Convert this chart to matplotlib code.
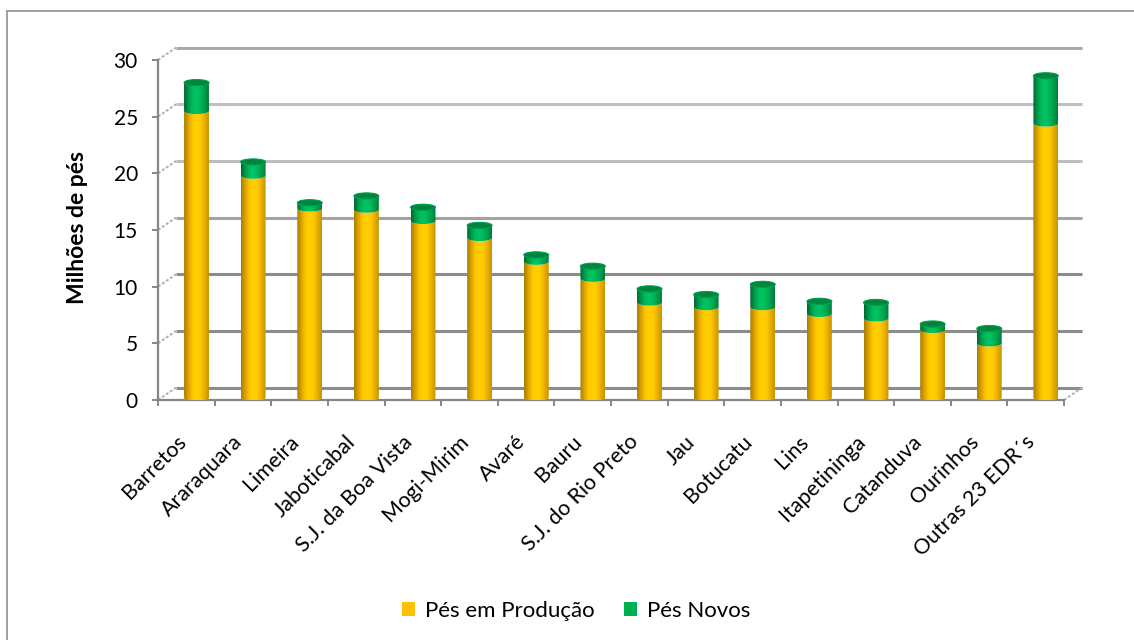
import matplotlib
matplotlib.use("Agg")
import matplotlib.pyplot as plt
import numpy as np
from matplotlib.colors import LinearSegmentedColormap
from matplotlib.patches import Ellipse, Patch, Polygon, Rectangle

plt.rcParams["font.family"] = ["Lato", "DejaVu Sans"]

categorias = [
    "Barretos", "Araraquara", "Limeira", "Jaboticabal", "S.J. da Boa Vista",
    "Mogi-Mirim", "Avaré", "Bauru", "S.J. do Rio Preto", "Jau", "Botucatu",
    "Lins", "Itapetininga", "Catanduva", "Ourinhos", "Outras 23 EDR´s",
]
producao = [25.3, 19.6, 16.7, 16.6, 15.6, 14.1, 12.0, 10.5, 8.4, 8.0, 8.0, 7.4, 7.0, 6.0, 4.8, 24.2]
novos = [2.5, 1.2, 0.5, 1.2, 1.2, 1.1, 0.6, 1.1, 1.2, 1.1, 2.0, 1.1, 1.4, 0.5, 1.3, 4.2]
yticks = [0, 5, 10, 15, 20, 25, 30]
serie_nomes = ["Pés em Produção", "Pés Novos"]

AMARELO = "#FFC000"
VERDE = "#00B050"
CINZA = "#868686"

cmap_amarelo = LinearSegmentedColormap.from_list(
    "am", ["#A87C00", "#D9A200", "#FFC400", "#FFD000", "#FFC800", "#E8AE00", "#C49200"])
cmap_verde = LinearSegmentedColormap.from_list(
    "vd", ["#00642F", "#00984A", "#00BA5C", "#00C462", "#00B658", "#009C4C", "#007A3A"])

# 3D look: back wall offset and bar position inside the floor depth
DX_BACK, DY_BACK = 0.32, 1.1
DX_BAR, Y_BASE = 0.18, 0.2
W = 0.44
EH = 0.55

fig = plt.figure(figsize=(11.34, 6.4), dpi=100)
ax = fig.add_axes([158 / 1134, 240 / 640, 906 / 1134, 340 / 640])
n = len(categorias)

# outer chart border
fig.patches.append(Rectangle((7 / 1134, -0.1), 1.2, 1.1 - 11 / 640, transform=fig.transFigure,
                             fill=False, edgecolor="#a0a0a0", lw=1.4))

# back wall gridlines + connectors to the front axis
grid_cores = ["#8c8c8c", "#8c8c8c", "#8c8c8c", "#a3a3a3", "#bdbdbd", "#c0c0c0", "#a8a8a8"]
for v, c in zip(yticks, grid_cores):
    ax.plot([-0.5 + DX_BACK, n - 0.5 + DX_BACK], [v + DY_BACK, v + DY_BACK],
            color=c, lw=2.2, clip_on=False, zorder=1, solid_capstyle="butt")
    ax.plot([-0.5, -0.5 + DX_BACK], [v, v + DY_BACK], color="#b0b0b0", lw=1.4,
            ls=(0, (1.5, 1)), clip_on=False, zorder=1)
ax.plot([n - 0.5, n - 0.5 + DX_BACK], [0, DY_BACK], color="#b0b0b0", lw=1.4,
        ls=(0, (1.5, 1)), clip_on=False, zorder=1)


def arco(cx, y, sup):
    t = np.linspace(0, np.pi, 40)
    if not sup:
        t = -t
    xs = cx + (W / 2) * np.cos(t)
    ys = y + (EH / 2) * np.sin(t)
    return np.column_stack([xs, ys])


def segmento(cx, y0, y1, cmap, topo):
    base = arco(cx, y0, False)[::-1]           # left -> right along lower half
    cima = arco(cx, y1, topo)                  # right -> left
    if not topo:
        cima = arco(cx, y1, False)
    pts = np.vstack([base, cima])
    poly = Polygon(pts, closed=True, transform=ax.transData)
    grad = np.linspace(0, 1, 256).reshape(1, -1)
    im = ax.imshow(grad, extent=(cx - W / 2, cx + W / 2, y0 - EH, y1 + EH), aspect="auto",
                   cmap=cmap, interpolation="bicubic", zorder=3)
    im.set_clip_path(poly)


for i, (p, nv) in enumerate(zip(producao, novos)):
    cx = i + DX_BAR
    segmento(cx, Y_BASE, Y_BASE + p, cmap_amarelo, False)
    segmento(cx, Y_BASE + p, Y_BASE + p + nv, cmap_verde, True)
    ax.add_patch(Ellipse((cx, Y_BASE + p + nv), W, EH, facecolor="#00843E",
                         edgecolor="#00A24F", lw=0.8, zorder=4))

ax.set_xlim(-0.5, n - 0.5)
ax.set_ylim(0, 30)
ax.set_facecolor("none")

for s in ["top", "right"]:
    ax.spines[s].set_visible(False)
for s in ["left", "bottom"]:
    ax.spines[s].set_color(CINZA)
    ax.spines[s].set_linewidth(1.6)
    ax.spines[s].set_zorder(2)

ax.set_yticks(yticks)
ax.set_yticklabels([str(v) for v in yticks], fontsize=15)
ax.set_xticks(np.arange(-0.5, n, 1))
ax.set_xticklabels([])
ax.tick_params(axis="both", color=CINZA, width=1.4, length=4.5)
ax.tick_params(axis="y", pad=10)

for i, nome in enumerate(categorias):
    ax.text(i - 0.19, -2.8, nome, rotation=45, rotation_mode="anchor",
            ha="right", va="top", fontsize=15.5)

fig.text(78 / 1134, 1 - 228 / 640, "Milhões de pés", rotation=90, fontweight="bold",
         ha="center", va="center", fontsize=16.5)

handles = [Patch(facecolor=AMARELO), Patch(facecolor=VERDE)]
fig.legend(handles, serie_nomes, loc="center", bbox_to_anchor=(576 / 1134, 1 - 611 / 640),
           ncol=2, frameon=False, fontsize=16, handlelength=0.6, handleheight=0.6,
           handletextpad=0.45, columnspacing=1.3)

fig.savefig("out.png", dpi=100)
